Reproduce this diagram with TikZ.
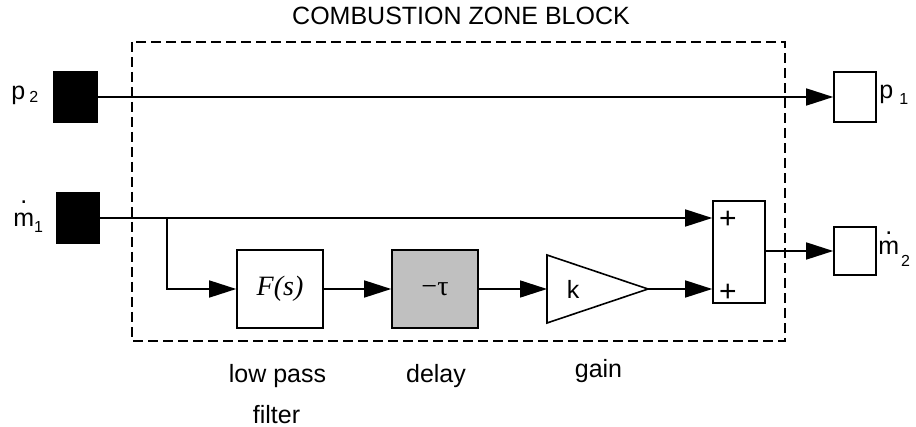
\documentclass[tikz,border=0pt]{standalone}
\usepackage{fontspec}
\setmainfont{Liberation Sans}
\newfontfamily\timesfont{Liberation Serif}
\usetikzlibrary{positioning, arrows.meta}
\definecolor{delaygray}{RGB}{192,192,192}
\newcommand{\mdotted}[1]{\rlap{\hspace{0.28em}\raisebox{#1}{.}}m}
\newcommand{\subidx}[2]{{\fontsize{8}{9}\selectfont\raisebox{#1}{#2}}}

\begin{document}
\begin{tikzpicture}[
			x=0.5pt, y=-0.5pt,
			font=\fontsize{12.5}{15}\selectfont,
			lw/.style={line width=0.8pt},
			port/.style={draw, lw, inner sep=0pt, minimum width=21pt, minimum height=25pt},
			inport/.style={port, fill=black},
			block/.style={draw, lw, inner sep=0pt, minimum width=43pt, minimum height=39pt,
				font=\fontsize{14}{16}\timesfont},
			sig/.style={lw, -{Triangle[length=13.5pt, width=8.5pt]}},
			lbl/.style={inner sep=0pt, anchor=base}
			]
			\useasboundingbox (0,0) rectangle (916,427);
			\node[lbl] (title) at (461,25) {COMBUSTION ZONE BLOCK};
			\draw[lw, dash pattern=on 5pt off 2.5pt] (132,42) rectangle (785,341);

			\node[inport, minimum width=21.5pt] (p2in) at (75.5,97) {};
			\node[inport] (m1in) at (78,218) {};
			\node[port] (p1out) at (855,97) {};
			\node[port, minimum height=24pt] (m2out) at (855,251) {};

			\node[lbl, anchor=base west] (p2lbl) at (11,100) {p\hspace{2pt}\subidx{-1.5pt}{2}};
			\node[lbl, anchor=base west] (p1lbl) at (879,99) {p\hspace{3pt}\subidx{-3pt}{1}};
			\node[lbl, anchor=base west] (m1lbl) at (13,227) {\mdotted{0.95em}\subidx{-3pt}{1}};
			\node[lbl, anchor=base west] (m2lbl) at (878,255) {\mdotted{0.8em}\hspace{1pt}\subidx{-6pt}{2}};

			\node[block] (filt) at (280,289) {\itshape F(s)};
			\node[block, fill=delaygray] (delay) at (435,289) {−τ};
			\draw[lw] (547,255) -- (648,289) -- (547,323) -- cycle;
			\coordinate (gainin) at (547,289);
			\coordinate (gainout) at (648,289);
			\node (gainlbl) at (573,289) {k};
			\node[draw, lw, inner sep=0pt, minimum width=26pt, minimum height=51pt] (sum) at (739,252) {};
			\node[font=\fontsize{15}{16}\selectfont] (plusa) at (728,220) {+};
			\node[font=\fontsize{15}{16}\selectfont] (plusb) at (728,293) {+};

			\node[lbl] (filtlbl) at (277.5,382) {low pass};
			\node[lbl] (filtlblb) at (276.5,423) {filter};
			\node[lbl] (delaylbl) at (436,382) {delay};
			\node[lbl] (gainlblb) at (598.5,378) {gain};

			\draw[sig] (p2in.east) -- (p1out.west);
			\draw[sig] (m1in.east) -- (m1in.east -| sum.west);
			\coordinate (br) at (167,218);
			\draw[sig] (br) |- (filt.west);
			\draw[sig] (filt) -- (delay);
			\draw[sig] (delay) -- (gainin);
			\draw[sig] (gainout) -- (gainout -| sum.west);
			\draw[sig] (sum.east |- m2out.west) -- (m2out.west);
		\end{tikzpicture}
\end{document}
